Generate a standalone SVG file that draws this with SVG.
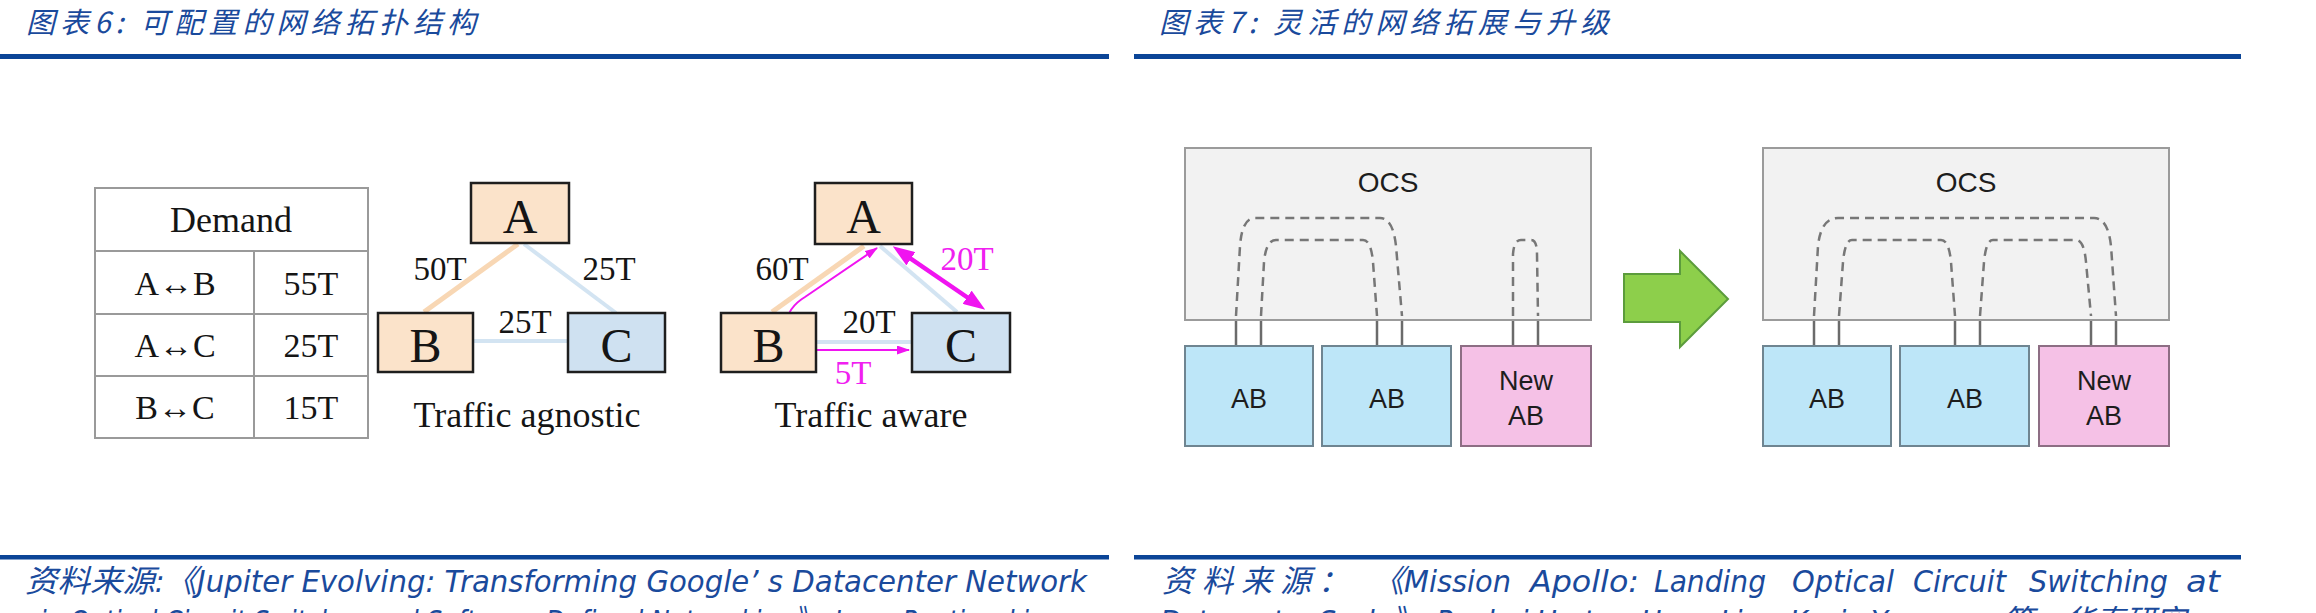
<svg xmlns="http://www.w3.org/2000/svg" width="2316" height="613" viewBox="0 0 2316 613">
  <defs>
    <style>
      .title{font-family:"Noto Sans CJK SC","Noto Sans",sans-serif;font-size:29px;font-style:italic;fill:#1a4a9c;}
      .src{font-family:"Liberation Sans Narrow","DejaVu Sans Condensed","Liberation Sans","Noto Sans CJK SC",sans-serif;font-size:31px;font-style:italic;fill:#1a4a9c;}
      .rule{fill:#0b4597;}
      .grid{fill:none;stroke:#9a9a9a;stroke-width:2;}
      .tm{font-family:"Liberation Serif","Times New Roman",serif;fill:#151515;text-anchor:middle;}
      .cellt{font-size:34px;}
      .head{font-size:36px;}
      .node-big{font-size:48px;}
      .lbl{font-size:33px;}
      .cap{font-size:36px;}
      .mag{fill:#f020f0;}
      .warm{fill:#fbe3ca;stroke:#1e1e1e;stroke-width:2.5;}
      .cool{fill:#cfe1f1;stroke:#1e1e1e;stroke-width:2.5;}
      .e-warm{stroke:#f8d7b4;stroke-width:5;fill:none;}
      .e-cool{stroke:#d3e4f2;stroke-width:4;fill:none;}
      .ocs{fill:#f2f2f2;stroke:#9b9b9b;stroke-width:2;}
      .ab{fill:#bde6f8;stroke:#6f8591;stroke-width:2;}
      .newab{fill:#f5c1e6;stroke:#8d6e84;stroke-width:2;}
      .port{stroke:#6b6b6b;stroke-width:2.5;}
      .fiber{fill:none;stroke:#777;stroke-width:2.5;stroke-dasharray:9 6;}
      .sans{font-family:"Liberation Sans",Arial,sans-serif;fill:#1d1d1d;text-anchor:middle;}
      .ocs-t{font-size:28px;}
      .ab-t{font-size:27px;}
    </style>
    <marker id="mag-l" markerUnits="userSpaceOnUse" markerWidth="22" markerHeight="16" refX="12" refY="8" orient="auto-start-reverse">
      <path d="M0,0 L22,8 L0,16 z" fill="#f014f0"/>
    </marker>
    <marker id="mag-s" markerUnits="userSpaceOnUse" markerWidth="13" markerHeight="9" refX="12" refY="4.5" orient="auto-start-reverse">
      <path d="M0,0 L13,4.5 L0,9 z" fill="#f014f0"/>
    </marker>
  </defs>

  <rect width="2316" height="613" fill="#fff"/>

  <!-- figure headers and rules -->
  <g id="headers">
    <text class="title" x="26" y="33" textLength="450" lengthAdjust="spacing">图表6: 可配置的网络拓扑结构</text>
    <text class="title" x="1159" y="33" textLength="450" lengthAdjust="spacing">图表7: 灵活的网络拓展与升级</text>
    <rect class="rule" x="0" y="54" width="1109" height="5"/>
    <rect class="rule" x="1134" y="54" width="1107" height="5"/>
    <rect class="rule" x="0" y="555" width="1109" height="4.5"/>
    <rect class="rule" x="1134" y="555" width="1107" height="4.5"/>
  </g>

  <!-- demand table -->
  <g id="demand-table">
    <rect class="grid" x="95" y="188" width="273" height="250" fill="#fff"/>
    <line class="grid" x1="95" y1="251" x2="368" y2="251"/>
    <line class="grid" x1="95" y1="314" x2="368" y2="314"/>
    <line class="grid" x1="95" y1="376" x2="368" y2="376"/>
    <line class="grid" x1="254" y1="251" x2="254" y2="438"/>
    <text class="tm head" x="231" y="232">Demand</text>
    <text class="tm cellt" x="175" y="295">A↔B</text>
    <text class="tm cellt" x="311" y="295">55T</text>
    <text class="tm cellt" x="175" y="357">A↔C</text>
    <text class="tm cellt" x="311" y="357">25T</text>
    <text class="tm cellt" x="175" y="419">B↔C</text>
    <text class="tm cellt" x="311" y="419">15T</text>
  </g>

  <!-- links of both topologies -->
  <g id="connectors">
    <!-- traffic agnostic -->
    <line class="e-warm" x1="518" y1="244" x2="424" y2="312"/>
    <line class="e-cool" x1="524" y1="244" x2="616" y2="313"/>
    <line class="e-cool" x1="473" y1="341" x2="568" y2="341" stroke-width="5"/>
    <!-- traffic aware -->
    <line class="e-warm" x1="864" y1="246" x2="772" y2="312" stroke-width="6"/>
    <line class="e-cool" x1="880" y1="246" x2="957" y2="312"/>
    <line class="e-cool" x1="816" y1="342" x2="912" y2="342" stroke-width="5"/>
    <!-- rerouted demand -->
    <path d="M901 252 L977 304" fill="none" stroke="#f014f0" stroke-width="4.5" marker-start="url(#mag-l)" marker-end="url(#mag-l)"/>
    <path d="M909 350 L818 350 C796 350 784 339 786 325 C787 312 795 303 805 297 L877 248" fill="none" stroke="#f014f0" stroke-width="2" marker-start="url(#mag-s)" marker-end="url(#mag-s)"/>

    <!-- OCS ports, left state -->
    <line class="port" x1="1236" y1="320" x2="1236" y2="346"/>
    <line class="port" x1="1261" y1="320" x2="1261" y2="346"/>
    <line class="port" x1="1377" y1="320" x2="1377" y2="346"/>
    <line class="port" x1="1402" y1="320" x2="1402" y2="346"/>
    <line class="port" x1="1513" y1="320" x2="1513" y2="346"/>
    <line class="port" x1="1538" y1="320" x2="1538" y2="346"/>
    <!-- OCS ports, right state -->
    <line class="port" x1="1814" y1="320" x2="1814" y2="346"/>
    <line class="port" x1="1839" y1="320" x2="1839" y2="346"/>
    <line class="port" x1="1955" y1="320" x2="1955" y2="346"/>
    <line class="port" x1="1980" y1="320" x2="1980" y2="346"/>
    <line class="port" x1="2091" y1="320" x2="2091" y2="346"/>
    <line class="port" x1="2116" y1="320" x2="2116" y2="346"/>
  </g>

  <!-- traffic agnostic nodes -->
  <g id="ta-A"><rect class="warm" x="471" y="183" width="98" height="60"/><text class="tm node-big" x="520" y="233">A</text></g>
  <g id="ta-B"><rect class="warm" x="378" y="313" width="95" height="59"/><text class="tm node-big" x="425.5" y="362">B</text></g>
  <g id="ta-C"><rect class="cool" x="568" y="313" width="97" height="59"/><text class="tm node-big" x="616.5" y="362">C</text></g>
  <g id="ta-labels">
    <text class="tm lbl" x="440" y="280">50T</text>
    <text class="tm lbl" x="609" y="280">25T</text>
    <text class="tm lbl" x="525" y="333">25T</text>
    <text class="tm cap" x="527" y="427">Traffic agnostic</text>
  </g>

  <!-- traffic aware nodes -->
  <g id="tw-A"><rect class="warm" x="815" y="183" width="97" height="61"/><text class="tm node-big" x="863.5" y="233">A</text></g>
  <g id="tw-B"><rect class="warm" x="721" y="313" width="95" height="59"/><text class="tm node-big" x="768.5" y="362">B</text></g>
  <g id="tw-C"><rect class="cool" x="912" y="313" width="98" height="59"/><text class="tm node-big" x="961" y="362">C</text></g>
  <g id="tw-labels">
    <text class="tm lbl" x="782" y="280">60T</text>
    <text class="tm lbl mag" x="967" y="270">20T</text>
    <text class="tm lbl" x="869" y="333">20T</text>
    <text class="tm lbl mag" x="853" y="384">5T</text>
    <text class="tm cap" x="871" y="427">Traffic aware</text>
  </g>

  <!-- OCS before expansion -->
  <g id="ocs-before">
    <rect class="ocs" x="1185" y="148" width="406" height="172"/>
    <text class="sans ocs-t" x="1388" y="192">OCS</text>
    <path class="fiber" d="M1236 316 L1240 246 Q1242 218 1255 218 L1380 218 Q1393 218 1396 246 L1402 316"/>
    <path class="fiber" d="M1261 316 L1264 262 Q1266 240 1276 240 L1363 240 Q1371 240 1373 262 L1377 316"/>
    <path class="fiber" d="M1513 316 L1513 254 Q1514 240 1521 240 L1531 240 Q1537 240 1537 254 L1538 316"/>
  </g>
  <g id="ab-1"><rect class="ab" x="1185" y="346" width="128" height="100"/><text class="sans ab-t" x="1249" y="408">AB</text></g>
  <g id="ab-2"><rect class="ab" x="1322" y="346" width="129" height="100"/><text class="sans ab-t" x="1387" y="408">AB</text></g>
  <g id="ab-new"><rect class="newab" x="1461" y="346" width="130" height="100"/><text class="sans ab-t" x="1526" y="390">New</text><text class="sans ab-t" x="1526" y="425">AB</text></g>

  <!-- transition arrow -->
  <g id="expand-arrow">
    <polygon points="1624,274 1680,274 1680,251 1728,299 1680,347 1680,322 1624,322" fill="#8dcf4b" stroke="#5c9c3c" stroke-width="2"/>
  </g>

  <!-- OCS after expansion -->
  <g id="ocs-after">
    <rect class="ocs" x="1763" y="148" width="406" height="172"/>
    <text class="sans ocs-t" x="1966" y="192">OCS</text>
    <path class="fiber" d="M1814 316 L1818 246 Q1821 218 1838 218 L2094 218 Q2108 218 2111 246 L2116 316"/>
    <path class="fiber" d="M1839 316 L1843 262 Q1845 240 1852 240 L1941 240 Q1949 240 1951 262 L1955 316"/>
    <path class="fiber" d="M1980 316 L1984 262 Q1986 240 1993 240 L2076 240 Q2084 240 2086 262 L2091 316"/>
  </g>
  <g id="ab-1b"><rect class="ab" x="1763" y="346" width="128" height="100"/><text class="sans ab-t" x="1827" y="408">AB</text></g>
  <g id="ab-2b"><rect class="ab" x="1900" y="346" width="129" height="100"/><text class="sans ab-t" x="1965" y="408">AB</text></g>
  <g id="ab-newb"><rect class="newab" x="2039" y="346" width="130" height="100"/><text class="sans ab-t" x="2104" y="390">New</text><text class="sans ab-t" x="2104" y="425">AB</text></g>

  <!-- sources -->
  <g id="sources">
    <text class="src" x="25" y="592" textLength="1062" lengthAdjust="spacingAndGlyphs">资料来源:《Jupiter Evolving: Transforming Google’ s Datacenter Network</text>
    <text class="src" x="25" y="632" textLength="1004" lengthAdjust="spacingAndGlyphs">via Optical Circuit Switches and Software-Defined Networking》，Leon Poutievski</text>
    <text class="src" x="1162 1202 1241 1280 1318" y="592">资料来源：</text>
    <text class="src" x="1372" y="592" textLength="139" lengthAdjust="spacingAndGlyphs">《Mission</text>
    <text class="src" x="1530" y="592" textLength="109" lengthAdjust="spacingAndGlyphs">Apollo:</text>
    <text class="src" x="1654" y="592" textLength="112" lengthAdjust="spacingAndGlyphs">Landing</text>
    <text class="src" x="1792" y="592" textLength="102" lengthAdjust="spacingAndGlyphs">Optical</text>
    <text class="src" x="1913" y="592" textLength="93" lengthAdjust="spacingAndGlyphs">Circuit</text>
    <text class="src" x="2029" y="592" textLength="139" lengthAdjust="spacingAndGlyphs">Switching</text>
    <text class="src" x="2186" y="592" textLength="34" lengthAdjust="spacingAndGlyphs">at</text>
    <text class="src" x="1160" y="632" textLength="1026" lengthAdjust="spacing">Datacenter Scale》，Ryohei Urata，Hong Liu，Kevin Yasumura等，华泰研究</text>
  </g>
</svg>
